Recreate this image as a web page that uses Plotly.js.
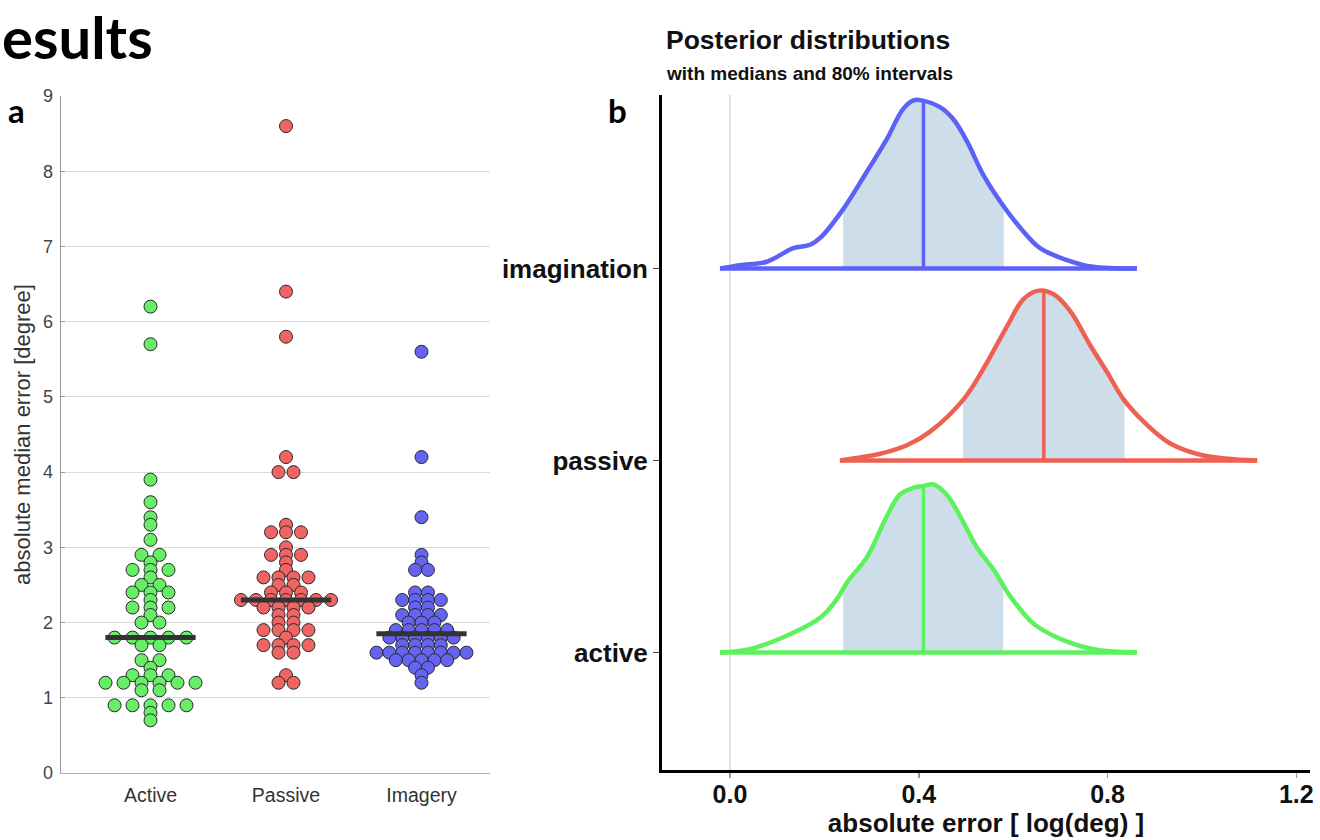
<!DOCTYPE html>
<html>
<head>
<meta charset="utf-8">
<script src="https://cdn.plot.ly/plotly-3.0.1.min.js"></script>
<style>html,body{margin:0;padding:0;background:#fff;}#chart{width:1320px;height:840px;}</style>
</head>
<body>
<div id="chart"></div>
<script>
// ---------- Panel a: swarm data (absolute median error, degree) ----------
const catsLeft = ['Active', 'Passive', 'Imagery'];
const activeVals = [6.2, 5.7, 3.9, 3.6, 3.4, 3.3, 3.1, 2.9, 2.9, 2.8, 2.7, 2.7, 2.7, 2.6, 2.5, 2.5,
  2.4, 2.4, 2.4, 2.3, 2.2, 2.2, 2.2, 2.1, 2.0, 2.0, 1.8, 1.8, 1.8, 1.8, 1.8, 1.7, 1.7, 1.5, 1.5,
  1.4, 1.3, 1.3, 1.3, 1.2, 1.2, 1.2, 1.2, 1.2, 1.2, 1.1, 1.1, 0.9, 0.9, 0.9, 0.9, 0.9, 0.8, 0.7];
const passiveVals = [8.6, 6.4, 5.8, 4.2, 4.0, 4.0, 3.3, 3.2, 3.2, 3.2, 3.0, 2.9, 2.9, 2.9, 2.8, 2.7,
  2.6, 2.6, 2.6, 2.6, 2.5, 2.5, 2.4, 2.4, 2.4, 2.3, 2.3, 2.3, 2.3, 2.3, 2.3, 2.3, 2.2, 2.2, 2.2, 2.2,
  2.1, 2.1, 2.0, 2.0, 1.9, 1.9, 1.9, 1.9, 1.8, 1.7, 1.7, 1.7, 1.7, 1.6, 1.6, 1.3, 1.2, 1.2];
const imageryVals = [5.6, 4.2, 3.4, 2.9, 2.8, 2.7, 2.7, 2.4, 2.4, 2.3, 2.3, 2.3, 2.3, 2.2, 2.2,
  2.1, 2.1, 2.1, 2.1, 2.0, 2.0, 2.0, 1.9, 1.9, 1.9, 1.9, 1.9, 1.8, 1.8, 1.8, 1.8, 1.8, 1.8,
  1.7, 1.7, 1.7, 1.7, 1.6, 1.6, 1.6, 1.6, 1.6, 1.6, 1.6, 1.6, 1.5, 1.5, 1.5, 1.5, 1.5, 1.4, 1.4, 1.3, 1.2];
const leftYTicks = [0, 1, 2, 3, 4, 5, 6, 7, 8, 9];

// ---------- Panel b: posterior densities (x in log(deg), relative density) ----------
const catsRight = ['active', 'passive', 'imagination'];
const activeDensX = [-0.021, 0.042, 0.113, 0.184, 0.205, 0.228, 0.250, 0.290, 0.332, 0.360, 0.389, 0.410,
  0.431, 0.459, 0.488, 0.523, 0.558, 0.594, 0.643, 0.700, 0.770, 0.862];
const activeDensY = [0, 0.02, 0.09, 0.19, 0.24, 0.32, 0.42, 0.56, 0.80, 0.93, 0.97, 0.98,
  0.99, 0.93, 0.80, 0.62, 0.49, 0.33, 0.17, 0.08, 0.02, 0];
const passiveDensX = [0.233, 0.318, 0.375, 0.424, 0.495, 0.537, 0.587, 0.622, 0.654, 0.685, 0.721,
  0.763, 0.799, 0.834, 0.876, 0.933, 1.003, 1.117];
const passiveDensY = [0, 0.04, 0.09, 0.17, 0.36, 0.54, 0.79, 0.95, 1.0, 0.98, 0.88,
  0.68, 0.52, 0.36, 0.23, 0.10, 0.03, 0];
const imagDensX = [-0.021, 0.021, 0.078, 0.134, 0.170, 0.191, 0.240, 0.290, 0.332, 0.367, 0.389,
  0.406, 0.445, 0.473, 0.502, 0.537, 0.579, 0.615, 0.657, 0.714, 0.770, 0.862];
const imagDensY = [0, 0.02, 0.04, 0.12, 0.14, 0.18, 0.35, 0.57, 0.76, 0.94, 0.99,
  0.99, 0.95, 0.88, 0.75, 0.55, 0.37, 0.24, 0.12, 0.05, 0.01, 0];
const postMedians = [0.41, 0.665, 0.41];
const postLow80 = [0.24, 0.494, 0.24];
const postHigh80 = [0.579, 0.836, 0.58];
const rightXTicks = [0, 0.4, 0.8, 1.2];
const rightXTickText = ['0.0', '0.4', '0.8', '1.2'];

// ---------- styles ----------
const FONT = 'Liberation Sans, Arial, Helvetica, sans-serif';
const markerColors = ['#66ee66', '#f06464', '#6464f0'];
const lineColors = ['#5cf25c', '#ee6152', '#5b62f5'];
const shadeColor = 'rgb(205,221,233)';
const SWARM_WIDTH = 0.664;   // total spread (x units) of the widest row
const BAR_HALF = 0.333;
const RIDGE_SCALE = 0.885;   // ridge height in category units

function swarmX(vals, cat) {
  const counts = {};
  vals.forEach(v => { const k = v.toFixed(1); counts[k] = (counts[k] || 0) + 1; });
  const maxN = Math.max(...Object.values(counts));
  const step = SWARM_WIDTH / Math.max(1, maxN - 1);
  const seen = {};
  return vals.map(v => {
    const k = v.toFixed(1);
    const i = seen[k] || 0; seen[k] = i + 1;
    return cat + (i - (counts[k] - 1) / 2) * step;
  });
}
function median(vals) {
  const s = vals.slice().sort((a, b) => a - b);
  const n = s.length;
  return n % 2 ? s[(n - 1) / 2] : (s[n / 2 - 1] + s[n / 2]) / 2;
}
function interp(xs, ys, x) {
  if (x <= xs[0]) return ys[0];
  for (let i = 1; i < xs.length; i++) {
    if (x <= xs[i]) { const t = (x - xs[i - 1]) / (xs[i] - xs[i - 1]); return ys[i - 1] + t * (ys[i] - ys[i - 1]); }
  }
  return ys[ys.length - 1];
}

const traces = [];
// Panel a
const groupsLeft = [activeVals, passiveVals, imageryVals];
groupsLeft.forEach((vals, gi) => {
  const cat = gi + 1;
  traces.push({
    type: 'scatter', mode: 'markers', xaxis: 'x', yaxis: 'y',
    x: swarmX(vals, cat), y: vals, name: catsLeft[gi],
    marker: { size: 13, color: markerColors[gi], line: { color: '#2a2a2a', width: 1 } },
    hoverinfo: 'y'
  });
});
groupsLeft.forEach((vals, gi) => {
  const cat = gi + 1, m = median(vals);
  traces.push({
    type: 'scatter', mode: 'lines', xaxis: 'x', yaxis: 'y',
    x: [cat - BAR_HALF, cat + BAR_HALF], y: [m, m],
    line: { color: '#333333', width: 5 }, hoverinfo: 'skip'
  });
});

// Panel b
const densX = [activeDensX, passiveDensX, imagDensX];
const densY = [activeDensY, passiveDensY, imagDensY];
densX.forEach((xs, gi) => {
  const base = gi + 1, ys = densY[gi];
  const lo = postLow80[gi], hi = postHigh80[gi];
  const fx = [lo], fy = [base + RIDGE_SCALE * interp(xs, ys, lo)];
  xs.forEach((x, i) => { if (x > lo && x < hi) { fx.push(x); fy.push(base + RIDGE_SCALE * ys[i]); } });
  fx.push(hi); fy.push(base + RIDGE_SCALE * interp(xs, ys, hi));
  traces.push({ type: 'scatter', mode: 'lines', xaxis: 'x2', yaxis: 'y2', x: [lo, hi], y: [base, base],
    line: { width: 0, color: shadeColor }, hoverinfo: 'skip' });
  traces.push({ type: 'scatter', mode: 'lines', xaxis: 'x2', yaxis: 'y2', x: fx, y: fy,
    fill: 'tonexty', fillcolor: shadeColor, line: { width: 0, shape: 'spline', color: shadeColor }, hoverinfo: 'skip' });
});
densX.forEach((xs, gi) => {
  const base = gi + 1, ys = densY[gi], col = lineColors[gi];
  const md = postMedians[gi];
  traces.push({ type: 'scatter', mode: 'lines', xaxis: 'x2', yaxis: 'y2',
    x: [md, md], y: [base, base + RIDGE_SCALE * interp(xs, ys, md)],
    line: { color: col, width: 3.5 }, hoverinfo: 'skip' });
  traces.push({ type: 'scatter', mode: 'lines', xaxis: 'x2', yaxis: 'y2',
    x: [xs[0], xs[xs.length - 1]], y: [base, base],
    line: { color: col, width: 4.5 }, hoverinfo: 'skip' });
  traces.push({ type: 'scatter', mode: 'lines', xaxis: 'x2', yaxis: 'y2',
    x: xs, y: ys.map(v => base + RIDGE_SCALE * v), name: catsRight[gi],
    line: { color: col, width: 4.5, shape: 'spline', smoothing: 1 }, hoverinfo: 'x' });
});

const W = 1320, H = 840;
const px = v => v / W, py = v => 1 - v / H;

const layout = {
  width: W, height: H,
  margin: { l: 0, r: 0, t: 0, b: 0 },
  paper_bgcolor: '#ffffff', plot_bgcolor: '#ffffff',
  showlegend: false,
  font: { family: FONT, color: '#333' },
  xaxis: {
    domain: [px(61), px(490)], range: [0.3395, 3.5055],
    tickvals: [1, 2, 3], ticktext: catsLeft, ticks: '',
    tickfont: { size: 19.5, color: '#333', family: FONT }, ticklabelstandoff: 5,
    showgrid: false, zeroline: false, showline: true, linecolor: '#b0b0b0', linewidth: 1,
    fixedrange: true
  },
  yaxis: {
    domain: [py(773), py(96)], range: [0, 9],
    tickvals: leftYTicks, ticks: 'inside', ticklen: 4, tickcolor: '#999',
    tickfont: { size: 18, color: '#444', family: FONT }, ticklabelstandoff: 3,
    showgrid: true, gridcolor: '#dcdcdc', gridwidth: 1, zeroline: false,
    showline: true, linecolor: '#999', linewidth: 1.5,
    title: { text: 'absolute median error [degree]', font: { size: 22, color: '#333', family: FONT }, standoff: 6 },
    fixedrange: true
  },
  xaxis2: {
    anchor: 'y2', domain: [px(662), px(1310)], range: [-0.144, 1.229],
    tickvals: rightXTicks, ticktext: rightXTickText,
    ticks: 'outside', ticklen: 5, tickwidth: 1.5, tickcolor: '#999',
    tickfont: { size: 25, color: '#111', family: FONT, weight: 'bold' }, ticklabelstandoff: -5,
    showgrid: false, showline: true, linecolor: '#000', linewidth: 3,
    zeroline: true, zerolinecolor: '#e2e2e2', zerolinewidth: 1.5,
    title: { text: 'absolute error [ log(deg) ]', font: { size: 26, color: '#111', family: FONT, weight: 'bold' }, standoff: 4 },
    fixedrange: true
  },
  yaxis2: {
    anchor: 'x2', domain: [py(770), py(95)], range: [0.388, 3.904],
    tickvals: [1, 2, 3], ticktext: catsRight,
    ticks: 'outside', ticklen: 6, tickwidth: 1.5, tickcolor: '#444',
    tickfont: { size: 26, color: '#111', family: FONT, weight: 'bold' }, ticklabelstandoff: 0,
    showgrid: false, zeroline: false, showline: true, linecolor: '#000', linewidth: 3,
    fixedrange: true
  },
  annotations: [
    { text: 'esults', xref: 'paper', yref: 'paper', x: px(0), y: py(37), xanchor: 'left', yanchor: 'middle',
      showarrow: false, font: { family: 'Lato, Open Sans, sans-serif', size: 58, color: '#000', weight: 'bold' } },
    { text: 'a', xref: 'paper', yref: 'paper', x: px(16), y: py(110), xanchor: 'center', yanchor: 'middle',
      showarrow: false, font: { family: 'Lato, Open Sans, sans-serif', size: 33, color: '#000', weight: 'bold' } },
    { text: 'b', xref: 'paper', yref: 'paper', x: px(617), y: py(110), xanchor: 'center', yanchor: 'middle',
      showarrow: false, font: { family: 'Lato, Open Sans, sans-serif', size: 33, color: '#000', weight: 'bold' } },
    { text: 'Posterior distributions', xref: 'paper', yref: 'paper', x: px(664), y: py(40), xanchor: 'left', yanchor: 'middle',
      showarrow: false, font: { family: FONT, size: 26.5, color: '#111', weight: 'bold' } },
    { text: 'with medians and 80% intervals', xref: 'paper', yref: 'paper', x: px(664), y: py(73), xanchor: 'left', yanchor: 'middle',
      showarrow: false, font: { family: FONT, size: 19, color: '#111', weight: 'bold' } }
  ]
};

Plotly.newPlot('chart', traces, layout, { displayModeBar: false, staticPlot: true });
</script>
</body>
</html>
